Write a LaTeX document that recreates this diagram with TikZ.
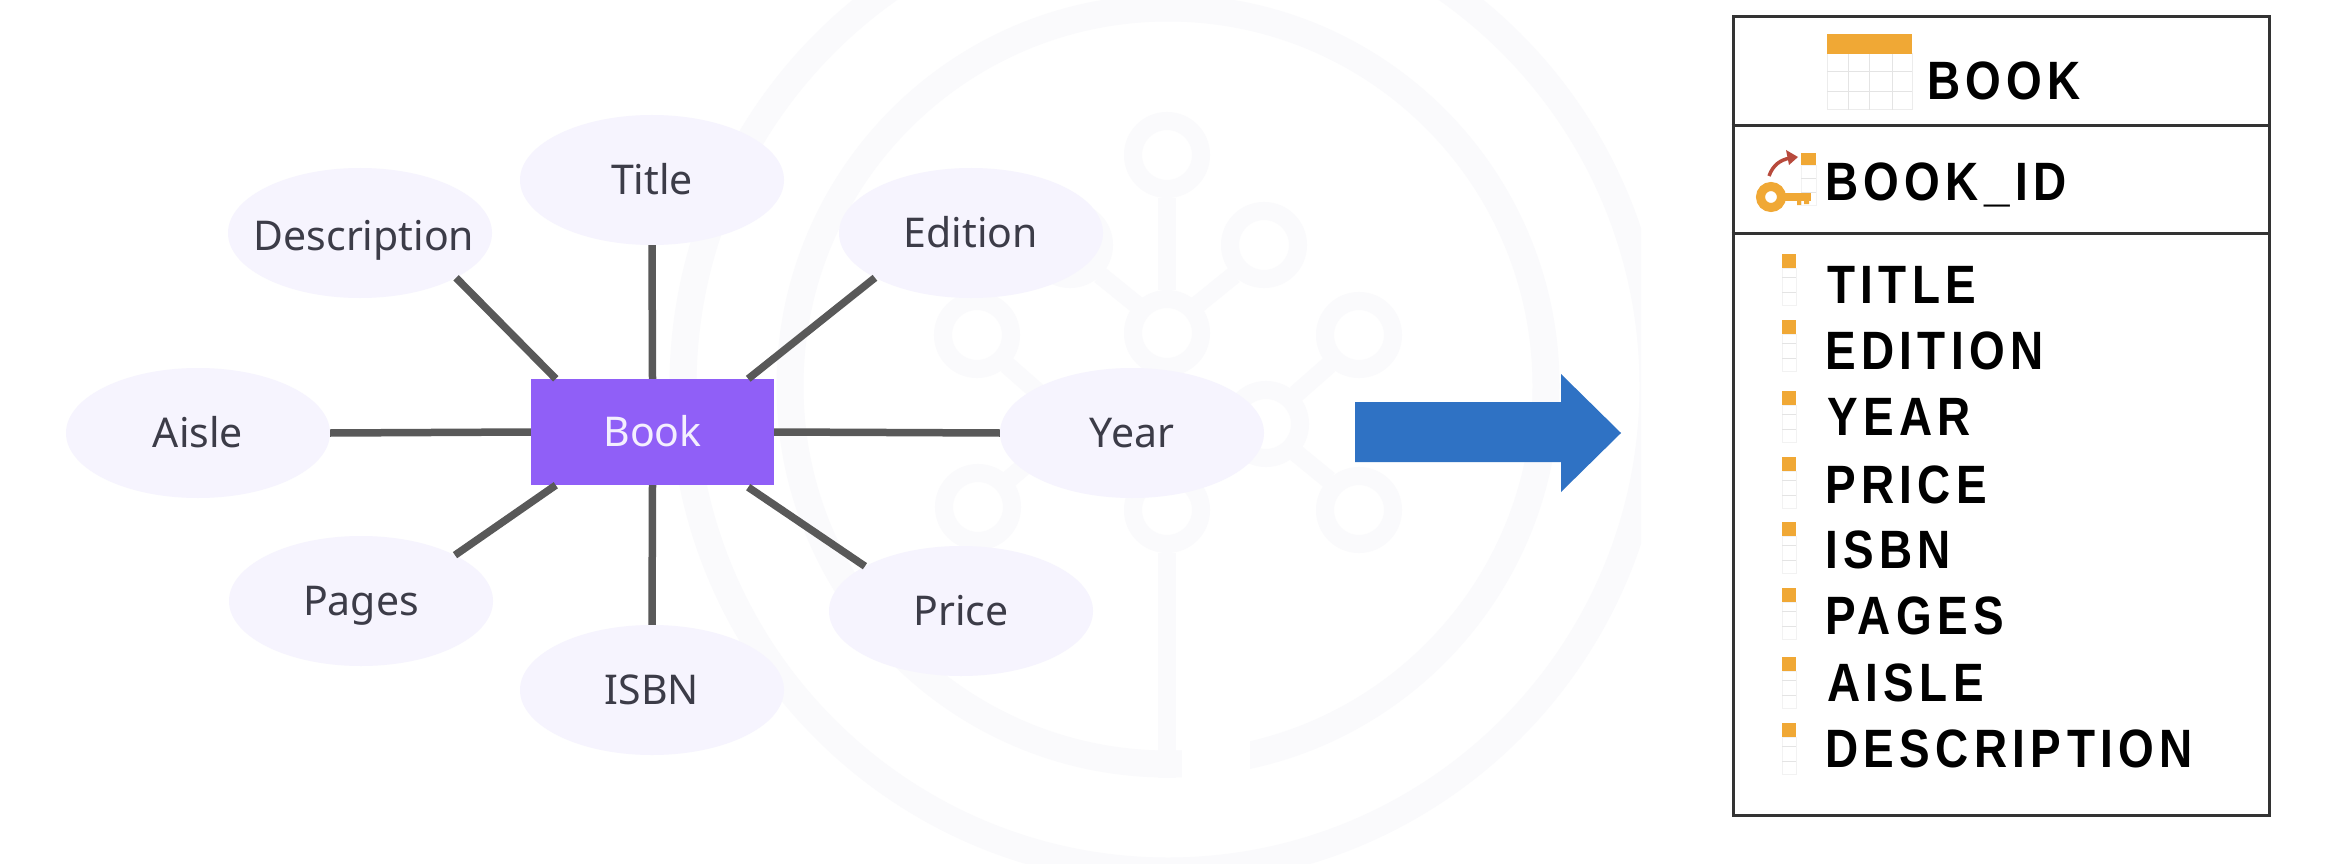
\documentclass[tikz,border=0pt]{standalone}
\usepackage{fontspec}
\usetikzlibrary{shapes.geometric}
\setmainfont{Noto Sans}
\newfontfamily\tablefont[FakeStretch=0.85,LetterSpace=10]{Liberation Sans Bold}
\definecolor{wm}{HTML}{FAFAFC}
\definecolor{bubble}{HTML}{F6F4FE}
\definecolor{bubtext}{HTML}{3C3C48}
\definecolor{linkgray}{HTML}{595959}
\definecolor{purple1}{HTML}{905FF7}
\definecolor{bluearrow}{HTML}{2F72C4}
\definecolor{orangec}{HTML}{F0A835}
\definecolor{cellc}{HTML}{E4E4E4}
\definecolor{framec}{HTML}{333333}
\definecolor{redarrow}{HTML}{B84A3C}
\tikzset{
  attr/.style={shape=ellipse,fill=bubble,draw=none,minimum width=264pt,minimum height=130pt,inner sep=0pt},
  attrtext/.style={inner sep=0pt,text=bubtext,font=\fontsize{41}{44}\selectfont,text height=29pt,text depth=0pt},
  entity/.style={shape=rectangle,fill=purple1,minimum width=243pt,minimum height=106pt,inner sep=0pt,
    text=white!90!purple1,font=\fontsize{41}{44}\selectfont,text height=29pt,text depth=0pt},
  link/.style={draw=linkgray,line width=7.5pt},
  wmline/.style={draw=wm,line width=18pt},
  wmring/.style={draw=wm,line width=27pt},
  frameline/.style={draw=framec,line width=3pt},
  rowtext/.style={anchor=base west,inner sep=0pt,text=black,font=\tablefont\fontsize{54}{58}\selectfont},
  cell/.style={draw=cellc,line width=1pt},
}
\newcommand{\colicon}[2]{%
  \fill[orangec] (#1,#2) rectangle ++(14,14);
  \draw[draw=cellc!50,line width=1pt] (#1,#2+14) rectangle ++(14,37);
  \draw[cell] (#1,#2+23) -- ++(14,0) (#1,#2+38) -- ++(14,0);
}
\begin{document}
\begin{tikzpicture}[x=1pt,y=-1pt]
\path[use as bounding box,fill=white] (0,0) rectangle (2340,864);
% watermark
\begin{scope}
\clip (0,0) rectangle (1641,864);
\draw[wmring] (1168,386) circle[radius=485];
\draw[wmring] (1168,386) circle[radius=378];
\fill[white] (1182,725) rectangle (1250,795);
\end{scope}
\foreach \cx/\cy in {1167/155,1264/245,1070/245,1167/333,977/335,1359/335,1266/424,1070/424,978/507,1167/510,1359/510}
  \draw[wmline] (\cx,\cy) circle[radius=34];
\draw[wmline] (1167,198) -- (1167,290);
\draw[wmline] (1234,275) -- (1197,305);
\draw[wmline] (1100,275) -- (1137,305);
\draw[wmline] (1329,365) -- (1296,394);
\draw[wmline] (1329,480) -- (1296,453);
\draw[wmline] (1007,365) -- (1040,394);
\draw[wmline] (1008,480) -- (1040,453);
\draw[wmline] (1167,553) -- (1167,778);
% bubbles and entity
\node[entity] (book) at (652.5,432) {Book};
\node[attr,label={[attrtext]center:Title}] (title) at (652,180) {};
\node[attr,label={[attrtext,xshift=4pt,yshift=-3pt]center:Description}] (desc) at (360,233) {};
\node[attr,label={[attrtext]center:Edition}] (edition) at (971,233) {};
\node[attr,label={[attrtext]center:Aisle}] (aisle) at (198,433) {};
\node[attr,label={[attrtext]center:Year}] (year) at (1132,433) {};
\node[attr,label={[attrtext]center:Pages}] (pages) at (361,601) {};
\node[attr,label={[attrtext]center:ISBN}] (isbn) at (652,690) {};
\node[attr,label={[attrtext]center:Price}] (price) at (961,611) {};
% connectors
\draw[link] (title.south) -- (book.north);
\draw[link] (book.south) -- (isbn.north);
\draw[link] (aisle.east) -- (book.west);
\draw[link] (book.east) -- (year.west);
\draw[link] (desc.-25.3) -- ([xshift=25pt]book.north west);
\draw[link] (edition.205.6) -- ([xshift=-26pt]book.north east);
\draw[link] (pages.26) -- ([xshift=25pt]book.south west);
\draw[link] (price.155) -- ([xshift=-26pt,yshift=-2pt]book.south east);
% big arrow
\fill[bluearrow] (1355,402) -- (1561,402) -- (1561,374) -- (1621,433) -- (1561,492) -- (1561,462) -- (1355,462) -- cycle;
% table frame
\node[draw=framec,line width=3pt,minimum width=536pt,minimum height=798pt,inner sep=0pt] (tbl) at (2001,416) {};
\draw[frameline] (tbl.west |- 0,126) -- (tbl.east |- 0,126);
\draw[frameline] (tbl.west |- 0,233) -- (tbl.east |- 0,233);
% table icon
\draw[draw=cellc!70,line width=1pt] (1827,54) rectangle (1912,110);
\foreach \vx in {1848,1869,1892} \draw[cell] (\vx,54) -- (\vx,110);
\foreach \hy in {72,92} \draw[cell] (1827,\hy) -- (1912,\hy);
\fill[orangec] (1827,34) rectangle (1912,54);
\node[rowtext] (tname) at (1927,100) {BOOK};
% key icon
\fill[orangec] (1801,153) rectangle (1816,166);
\draw[draw=cellc!50,line width=1pt] (1801,166) rectangle (1816,205);
\draw[cell] (1801,178) -- (1816,178) (1801,192) -- (1816,192);
\draw[orangec,line width=9pt] (1771,197) circle[radius=10.5];
\fill[orangec] (1783,193) rectangle (1811,201);
\fill[orangec] (1797,200) rectangle (1801,205) (1804,200) rectangle (1809,204);
\draw[redarrow,line width=3.5pt] (1769,176) .. controls (1773,165) and (1780,160) .. (1790,158);
\fill[redarrow] (1798,157) -- (1786,150) -- (1789,165) -- cycle;
\node[rowtext] (pk) at (1825,200) {BOOK\_ID};
% columns
\foreach \ic/\iy in {1782/254,1782/320,1782/391,1782/457,1782/522,1782/588,1782/657,1782/723}
  {\colicon{\ic}{\iy}}
\node[rowtext] (r1) at (1827,303) {TITLE};
\node[rowtext] (r2) at (1825,369) {EDITION};
\node[rowtext] (r3) at (1827,435) {YEAR};
\node[rowtext] (r4) at (1825,503) {PRICE};
\node[rowtext] (r5) at (1825,568) {ISBN};
\node[rowtext] (r6) at (1825,634) {PAGES};
\node[rowtext] (r7) at (1827,701) {AISLE};
\node[rowtext] (r8) at (1825,767) {DESCRIPTION};
\end{tikzpicture}
\end{document}
